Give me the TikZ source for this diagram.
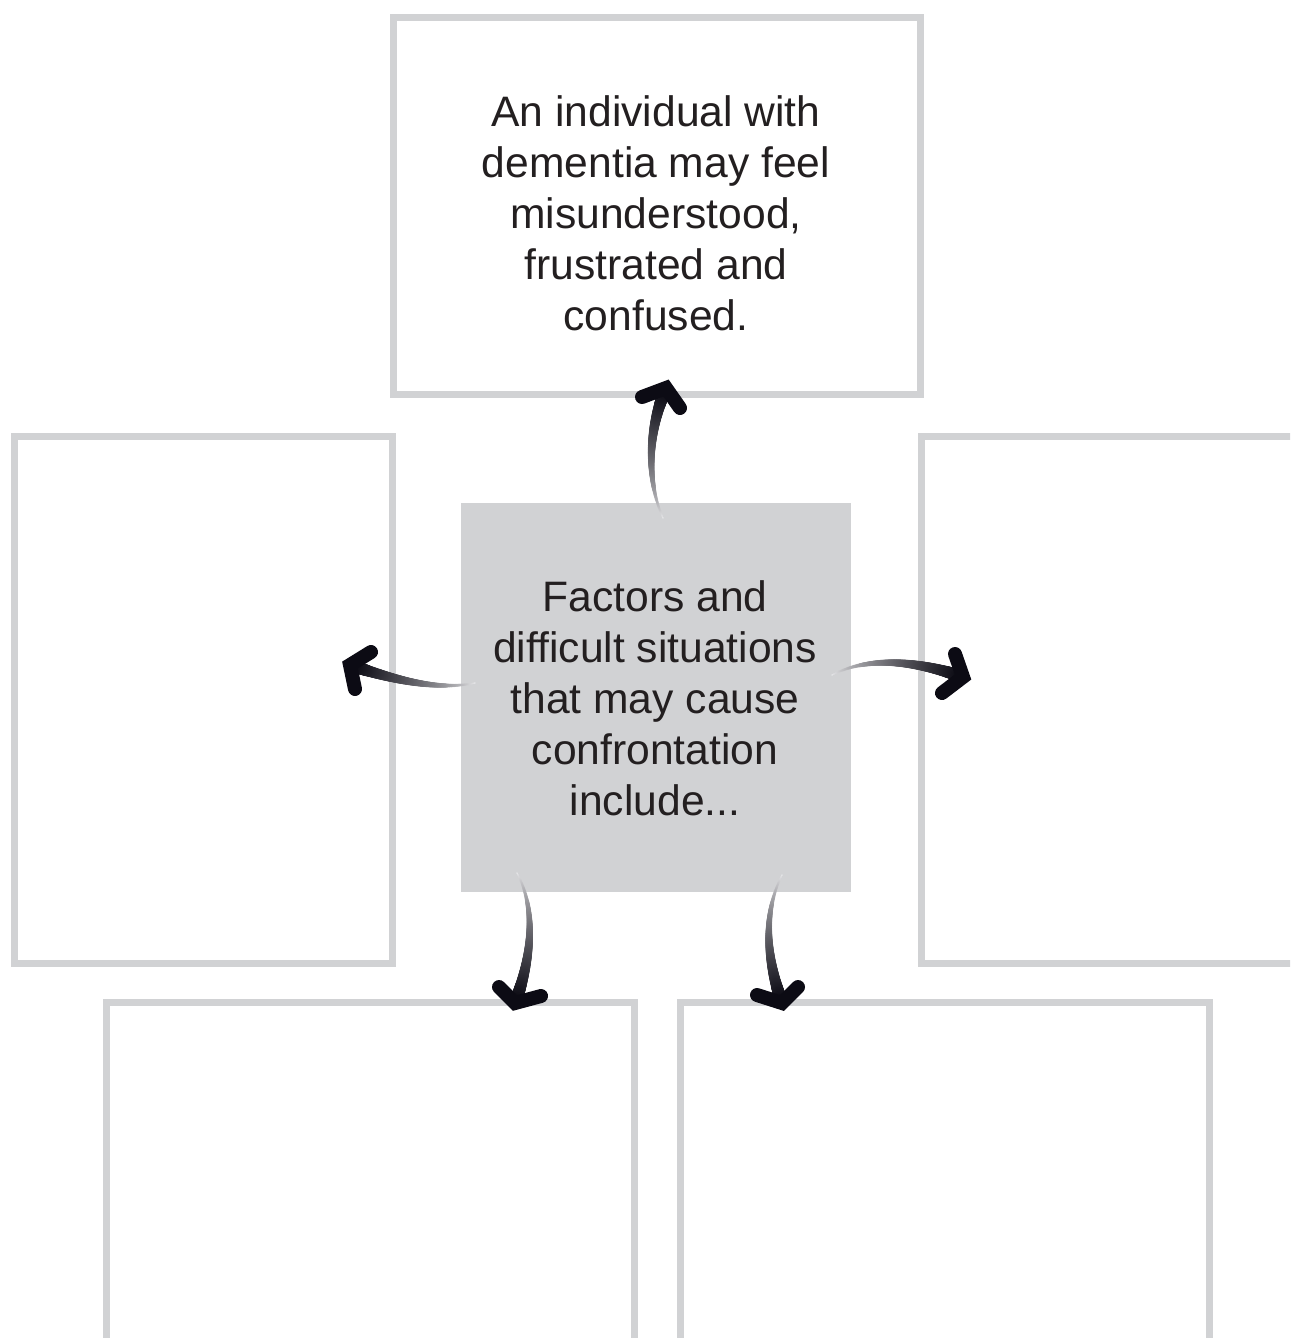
\documentclass[tikz,border=0pt]{standalone}
\usepackage{fontspec}
\setmainfont{Liberation Sans}
\usetikzlibrary{decorations.markings}
\definecolor{boxgray}{HTML}{D1D2D4}
\definecolor{textcol}{HTML}{231F20}
\definecolor{arrowdark}{HTML}{0C0B14}
\definecolor{arrowlight}{HTML}{ECECEE}
\tikzset{
  frame/.style={draw=boxgray, line width=7pt, fill=none, inner sep=0pt, outer sep=0pt},
  lbl/.style={text=textcol, align=center, font=\fontsize{42.6}{51}\selectfont, inner sep=0pt},
  shaft/.style={decoration={markings, mark=between positions 0 and 1 step 0.6pt with {
      \pgfmathsetmacro\arrfr{\pgfkeysvalueof{/pgf/decoration/mark info/distance from start}/\pgfdecoratedpathlength}
      \pgfmathsetmacro\arrpc{100*(\arrfr)^0.7}
      \pgfmathsetmacro\arrr{0.7+5.8*\arrfr}
      \fill[arrowdark!\arrpc!arrowlight] (0pt,0pt) circle[radius=\arrr pt];
    }}, decorate},
  headtip/.style={draw=arrowdark, line width=14pt, line cap=round, line join=miter}
}
\begin{document}
\begin{tikzpicture}[x=1pt,y=-1pt]
\useasboundingbox (0,0) rectangle (1290,1338);
\clip (0,0) rectangle (1290,1338);
% boxes
\node[frame, minimum width=527pt, minimum height=376pt] (topbox) at (656.5,206) {};
\node[frame, minimum width=378pt, minimum height=527pt] (leftbox) at (203,699.5) {};
\node[frame, minimum width=527pt, minimum height=527pt] (rightbox) at (1184.5,699.5) {};
\node[frame, minimum width=528pt, minimum height=380pt] (blbox) at (370,1192) {};
\node[frame, minimum width=529pt, minimum height=380pt] (brbox) at (944.5,1192) {};
\node[fill=boxgray, minimum width=390pt, minimum height=389pt, inner sep=0pt] (center) at (656,697.5) {};
% texts
\node[lbl] (toptext) at (656,213) {An individual with\\dementia may feel\\misunderstood,\\frustrated and\\confused.};
\node[lbl] (centertext) at (655,698) {Factors and\\difficult situations\\that may cause\\confrontation\\include...};
% connector end points
\coordinate (tailT) at (663,518);
\coordinate (tipT) at (666,388);
\coordinate (tailL) at (475,683);
\coordinate (tipL) at (350,665);
\coordinate (tailR) at (832,675);
\coordinate (tipR) at (963,677);
\coordinate (tailBL) at (517,873);
\coordinate (tipBL) at (515,1003);
\coordinate (tailBR) at (782,875);
\coordinate (tipBR) at (782,1003);
% shafts
\path[shaft] (tailT) .. controls (646,480) and (648,430) .. (tipT);
\path[shaft] (tailL) .. controls (440,690) and (400,682) .. (tipL);
\path[shaft] (tailR) .. controls (870,655) and (920,662) .. (tipR);
\path[shaft] (tailBL) .. controls (537,910) and (531,960) .. (tipBL);
\path[shaft] (tailBR) .. controls (762,915) and (767,960) .. (tipBR);
% heads
\draw[headtip] (642,397) -- (tipT) -- (680,408);
\draw[headtip] (371,652) -- (tipL) -- (355,689);
\draw[headtip] (955,654) -- (tipR) -- (942,693);
\draw[headtip] (499,987) -- (tipBL) -- (541,996);
\draw[headtip] (757,995) -- (tipBR) -- (798,987);
\end{tikzpicture}
\end{document}
